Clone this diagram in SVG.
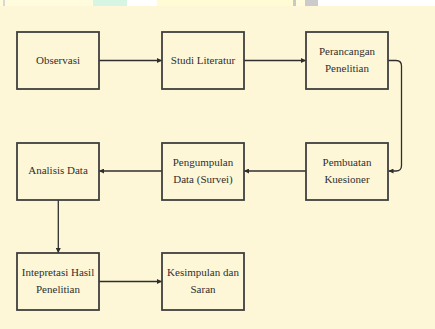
<svg xmlns="http://www.w3.org/2000/svg" width="435" height="329" viewBox="0 0 435 329">
<defs>
<style>
.box{fill:#FEF7D7;stroke:#3f3f3f;stroke-width:1.8}
.t{font-family:"Liberation Serif","Times New Roman",serif;font-size:11px;fill:#2f2f2f;text-anchor:middle}
.c{fill:none;stroke:#2e2e2e;stroke-width:1.3}
</style>
<marker id="ah" viewBox="0 0 6 6" refX="6" refY="3" markerWidth="5" markerHeight="5" orient="auto" markerUnits="userSpaceOnUse">
<path d="M0,0 L6,3 L0,6 Z" fill="#2e2e2e"/>
</marker>
</defs>
<rect x="0" y="0" width="435" height="329" fill="#FEF7D7"/>
<g id="watermark">
<rect x="0" y="0" width="435" height="6" fill="#FFFCDD"/>
<rect x="3" y="0" width="2" height="6" fill="#D8D8D0"/>
<rect x="93" y="0" width="34" height="6" fill="#D6F5E2"/>
<rect x="127" y="0" width="30" height="6" fill="#FFFFFF"/>
<rect x="157" y="0" width="136" height="6" fill="#FFFBD2"/>
<rect x="293" y="0" width="3" height="6" fill="#C8C8C8"/>
<rect x="305" y="0" width="13" height="6" fill="#CBCBCB"/>
<rect x="318" y="0" width="117" height="6" fill="#FFFFFF"/>
</g>
<g id="connectors">
<line class="c" x1="99" y1="60.5" x2="162" y2="60.5" marker-end="url(#ah)"/>
<line class="c" x1="244" y1="60.5" x2="306" y2="60.5" marker-end="url(#ah)"/>
<path class="c" d="M388,60.5 H396 Q401.5,60.5 401.5,66 V165.5 Q401.5,171 396,171 H388.5" marker-end="url(#ah)"/>
<line class="c" x1="306" y1="171" x2="244" y2="171" marker-end="url(#ah)"/>
<line class="c" x1="162" y1="171" x2="99" y2="171" marker-end="url(#ah)"/>
<line class="c" x1="58.3" y1="200" x2="58.3" y2="253" marker-end="url(#ah)"/>
<line class="c" x1="99" y1="281.5" x2="162" y2="281.5" marker-end="url(#ah)"/>
</g>
<g id="observasi">
<rect class="box" x="17" y="32" width="82" height="57"/>
<text class="t" x="58" y="64">Observasi</text>
</g>
<g id="studi-literatur">
<rect class="box" x="162" y="32" width="82" height="57"/>
<text class="t" x="203" y="64">Studi Literatur</text>
</g>
<g id="perancangan-penelitian">
<rect class="box" x="306" y="32" width="82" height="57"/>
<text class="t" x="347" y="55">Perancangan</text>
<text class="t" x="347" y="71.5">Penelitian</text>
</g>
<g id="pembuatan-kuesioner">
<rect class="box" x="306" y="143" width="82" height="57"/>
<text class="t" x="347" y="165.5">Pembuatan</text>
<text class="t" x="347" y="182.5">Kuesioner</text>
</g>
<g id="pengumpulan-data">
<rect class="box" x="162" y="143" width="82" height="57"/>
<text class="t" x="203" y="165.5">Pengumpulan</text>
<text class="t" x="203" y="182.5">Data (Survei)</text>
</g>
<g id="analisis-data">
<rect class="box" x="17" y="143" width="82" height="57"/>
<text class="t" x="58" y="174">Analisis Data</text>
</g>
<g id="intepretasi">
<rect class="box" x="17" y="253" width="82" height="57"/>
<text class="t" x="58" y="276">Intepretasi Hasil</text>
<text class="t" x="58" y="292.5">Penelitian</text>
</g>
<g id="kesimpulan">
<rect class="box" x="162" y="253" width="82" height="57"/>
<text class="t" x="203" y="276">Kesimpulan dan</text>
<text class="t" x="203" y="292.5">Saran</text>
</g>
</svg>
